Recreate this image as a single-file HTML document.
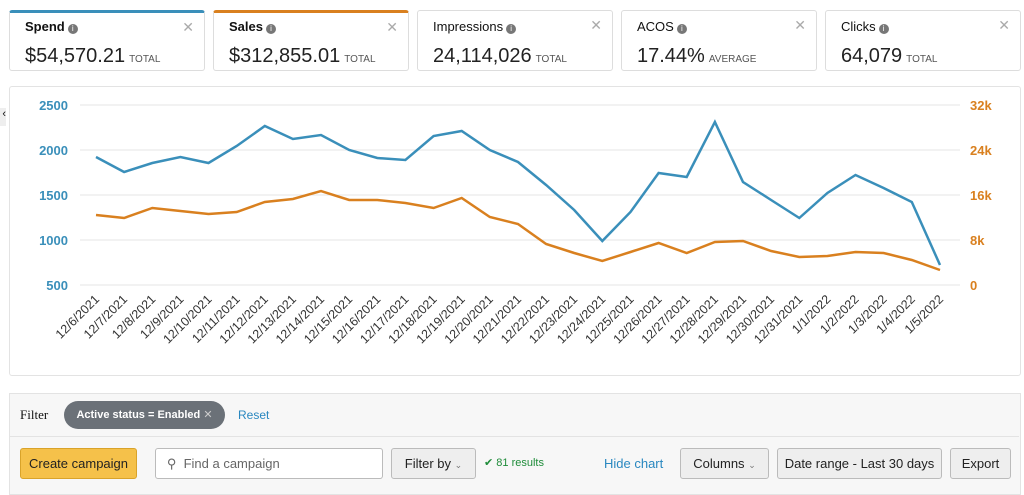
<!DOCTYPE html>
<html><head><style>
body{margin:0;width:1024px;height:487px;background:#fff;font-family:"Liberation Sans",sans-serif;position:relative;overflow:hidden;color:#111}
.card{position:absolute;top:10px;height:61px;width:196px;box-sizing:border-box;border:1px solid #ddd;border-radius:3px;background:#fff}
.card .t{position:absolute;left:15px;top:6px;font-size:13px;color:#111}
.card .v{position:absolute;left:15px;top:32px;font-size:20px;color:#222}
.card .v small{font-size:10px;color:#555;margin-left:4px}
.card .x{position:absolute;right:10px;top:6px;color:#aaa;font-size:14px}
.i{display:inline-block;width:10px;height:10px;border-radius:50%;background:#777;color:#fff;font-size:8px;text-align:center;line-height:10px;vertical-align:0px;margin-left:3px}
.btn{position:absolute;top:448px;height:29px;border:1px solid #bbb;border-radius:3px;background:#eee;font-size:13px;line-height:29px;text-align:center;color:#222}
</style></head><body>
<div class="card" style="left:9px;border-top:3px solid #3a8fba"><div class="t"><b>Spend</b><span class="i">i</span></div><div class="x">✕</div><div class="v">$54,570.21<small>TOTAL</small></div></div>
<div class="card" style="left:213px;border-top:3px solid #d9801f"><div class="t"><b>Sales</b><span class="i">i</span></div><div class="x">✕</div><div class="v">$312,855.01<small>TOTAL</small></div></div>
<div class="card" style="left:417px"><div class="t" style="top:8px">Impressions<span class="i">i</span></div><div class="x">✕</div><div class="v" style="top:34px">24,114,026<small>TOTAL</small></div></div>
<div class="card" style="left:621px"><div class="t" style="top:8px">ACOS<span class="i">i</span></div><div class="x">✕</div><div class="v" style="top:34px">17.44%<small>AVERAGE</small></div></div>
<div class="card" style="left:825px"><div class="t" style="top:8px">Clicks<span class="i">i</span></div><div class="x">✕</div><div class="v" style="top:34px">64,079<small>TOTAL</small></div></div>
<div style="position:absolute;left:9px;top:86px;width:1010px;height:288px;border:1px solid #e3e3e3;border-radius:3px"></div>
<div style="position:absolute;left:-4px;top:108px;width:10px;height:18px;background:#eee;font-size:11px;text-align:right">‹</div>
<svg style="position:absolute;left:0;top:0" width="1024" height="380" font-family="Liberation Sans" font-size="13">
<g stroke="#e6e6e6"><line x1="80" x2="960" y1="105" y2="105"/><line x1="80" x2="960" y1="150" y2="150"/><line x1="80" x2="960" y1="195" y2="195"/><line x1="80" x2="960" y1="240" y2="240"/><line x1="80" x2="960" y1="285" y2="285"/></g>
<g fill="#3a8fba" font-weight="bold" text-anchor="end"><text x="68" y="110">2500</text><text x="68" y="155">2000</text><text x="68" y="200">1500</text><text x="68" y="245">1000</text><text x="68" y="290">500</text></g>
<g fill="#d9801f" font-weight="bold"><text x="970" y="110">32k</text><text x="970" y="155">24k</text><text x="970" y="200">16k</text><text x="970" y="245">8k</text><text x="970" y="290">0</text></g>
<polyline fill="none" stroke="#3a8fba" stroke-width="2.5" points="96,157 124.1,172 152.3,163 180.4,157 208.5,163 236.7,146 264.8,126 292.9,139 321,135 349.2,150 377.3,158 405.4,160 433.6,136 461.7,131 489.8,150 518,162 546.1,185 574.2,210 602.3,241 630.5,212 658.6,173 686.7,177 714.9,122 743,182 771.1,200 799.3,218 827.4,193 855.5,175 883.6,188 911.8,202 940,265"/>
<polyline fill="none" stroke="#d9801f" stroke-width="2.5" points="96,215 124.1,218 152.3,208 180.4,211 208.5,214 236.7,212 264.8,202 292.9,199 321,191 349.2,200 377.3,200 405.4,203 433.6,208 461.7,198 489.8,217 518,224 546.1,244 574.2,253 602.3,261 630.5,252 658.6,243 686.7,253 714.9,242 743,241 771.1,251 799.3,257 827.4,256 855.5,252 883.6,253 911.8,260 940,270"/>
<g fill="#333" font-size="12.5" text-anchor="end">
<text transform="translate(100,300) rotate(-45)">12/6/2021</text>
<text transform="translate(128.1,300) rotate(-45)">12/7/2021</text>
<text transform="translate(156.3,300) rotate(-45)">12/8/2021</text>
<text transform="translate(184.4,300) rotate(-45)">12/9/2021</text>
<text transform="translate(212.5,300) rotate(-45)">12/10/2021</text>
<text transform="translate(240.7,300) rotate(-45)">12/11/2021</text>
<text transform="translate(268.8,300) rotate(-45)">12/12/2021</text>
<text transform="translate(296.9,300) rotate(-45)">12/13/2021</text>
<text transform="translate(325,300) rotate(-45)">12/14/2021</text>
<text transform="translate(353.2,300) rotate(-45)">12/15/2021</text>
<text transform="translate(381.3,300) rotate(-45)">12/16/2021</text>
<text transform="translate(409.4,300) rotate(-45)">12/17/2021</text>
<text transform="translate(437.6,300) rotate(-45)">12/18/2021</text>
<text transform="translate(465.7,300) rotate(-45)">12/19/2021</text>
<text transform="translate(493.8,300) rotate(-45)">12/20/2021</text>
<text transform="translate(522,300) rotate(-45)">12/21/2021</text>
<text transform="translate(550.1,300) rotate(-45)">12/22/2021</text>
<text transform="translate(578.2,300) rotate(-45)">12/23/2021</text>
<text transform="translate(606.3,300) rotate(-45)">12/24/2021</text>
<text transform="translate(634.5,300) rotate(-45)">12/25/2021</text>
<text transform="translate(662.6,300) rotate(-45)">12/26/2021</text>
<text transform="translate(690.7,300) rotate(-45)">12/27/2021</text>
<text transform="translate(718.9,300) rotate(-45)">12/28/2021</text>
<text transform="translate(747,300) rotate(-45)">12/29/2021</text>
<text transform="translate(775.1,300) rotate(-45)">12/30/2021</text>
<text transform="translate(803.3,300) rotate(-45)">12/31/2021</text>
<text transform="translate(831.4,300) rotate(-45)">1/1/2022</text>
<text transform="translate(859.5,300) rotate(-45)">1/2/2022</text>
<text transform="translate(887.6,300) rotate(-45)">1/3/2022</text>
<text transform="translate(915.8,300) rotate(-45)">1/4/2022</text>
<text transform="translate(944,300) rotate(-45)">1/5/2022</text>
</g></svg>
<div style="position:absolute;left:9px;top:393px;width:1010px;height:100px;background:#f7f7f7;border:1px solid #e3e3e3"></div>
<div style="position:absolute;left:9px;top:436px;width:1010px;height:1px;background:#e3e3e3"></div>
<div style="position:absolute;left:20px;top:407px;font-family:'Liberation Serif',serif;font-size:13px">Filter</div>
<div style="position:absolute;left:64px;top:401px;width:161px;height:28px;border-radius:14px;background:#6b7178;color:#fff;font-size:11px;font-weight:bold;line-height:28px;text-align:center">Active status = Enabled <span style="font-weight:normal;color:#ccc">✕</span></div>
<div style="position:absolute;left:238px;top:408px;font-size:12px;color:#2a88c0">Reset</div>
<div class="btn" style="left:20px;width:115px;background:#f5c14a;border-color:#d9a32a">Create campaign</div>
<div class="btn" style="left:155px;width:226px;background:#fff;text-align:left;color:#666">&nbsp;&nbsp;&nbsp;⚲&nbsp; Find a campaign</div>
<div class="btn" style="left:391px;width:83px">Filter by <span style="font-size:9px;color:#777">⌄</span></div>
<div style="position:absolute;left:484px;top:456px;font-size:11px;color:#1f8c3a">✔ 81 results</div>
<div style="position:absolute;left:604px;top:456px;font-size:13px;color:#2a88c0">Hide chart</div>
<div class="btn" style="left:680px;width:87px">Columns <span style="font-size:9px;color:#777">⌄</span></div>
<div class="btn" style="left:777px;width:163px">Date range - Last 30 days</div>
<div class="btn" style="left:950px;width:59px">Export</div>
</body></html>
